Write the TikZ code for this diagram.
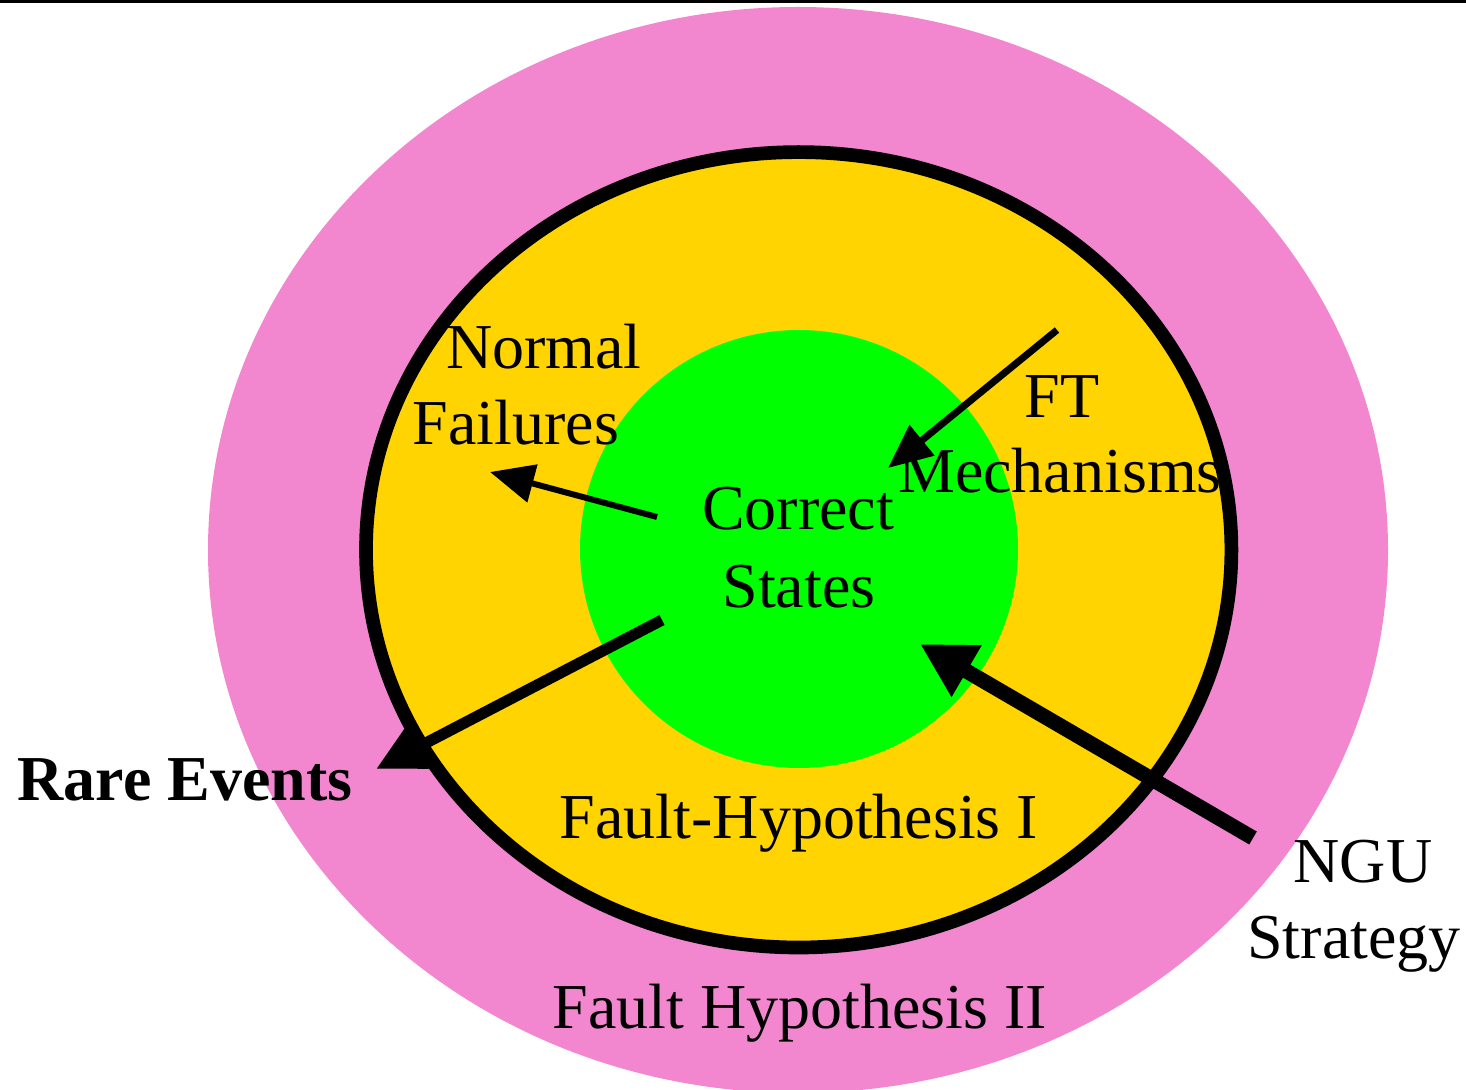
\documentclass[tikz,border=0pt]{standalone}
\usepackage{fontspec}
\setmainfont{Liberation Serif}
\usetikzlibrary{arrows.meta}
\definecolor{pinkfh}{RGB}{242,135,208}
\definecolor{goldfh}{RGB}{255,212,0}
\definecolor{greenfh}{RGB}{0,255,0}
\begin{document}
\begin{tikzpicture}[x=0.5pt,y=-0.5pt,
  lbl/.style={anchor=base,inner sep=0pt,font=\fontsize{32}{38}\selectfont},
  thinarrow/.style={line width=3pt,-{Triangle[length=22pt,width=19pt]}},
  thickarrow/.style={line width=5.6pt,-{Triangle[length=23.5pt,width=22.5pt]}},
  heavyarrow/.style={line width=7.5pt,-{Triangle[length=27pt,width=28pt]}}]
\useasboundingbox (0,0) rectangle (1466,1090);
\clip (0,0) rectangle (1466,1090);
\fill[pinkfh] (798,550) ellipse [x radius=590, y radius=543];
\filldraw[fill=goldfh,draw=black,line width=6.85pt] (798.7,549.8) ellipse [x radius=432.7, y radius=397.7];
\fill[greenfh] (799,549) circle [radius=219];
\fill[black] (0,0) rectangle (1466,3.5);
% labels
\node[lbl] (normal) at (544,369) {Normal};
\node[lbl] (failures) at (516,445) {Failures};
\node[lbl] (ft) at (1062,418) {FT};
\node[lbl] (mech) at (1060,493) {Mechanisms};
\node[lbl] (correct) at (798,530) {Correct};
\node[lbl] (states) at (799,607) {States};
\node[lbl,font=\fontsize{32}{38}\selectfont\bfseries] (rare) at (185,800) {Rare Events};
\node[lbl] (fh1) at (799,838) {Fault-Hypothesis I};
\node[lbl] (ngu) at (1363,882) {NGU};
\node[lbl] (strategy) at (1354,958) {Strategy};
\node[lbl] (fh2) at (800,1028) {Fault Hypothesis II};
% arrow ends
\coordinate (nfs) at (657,517);
\coordinate (nft) at (490,472);
\coordinate (fts) at (1057,330);
\coordinate (ftt) at (888,468);
\coordinate (res) at (662,620);
\coordinate (ret) at (376,769);
\coordinate (ngs) at (1253,838);
\coordinate (ngt) at (920,644);
\draw[thinarrow] (nfs) -- (nft);
\draw[thinarrow,line width=3.5pt] (fts) -- (ftt);
\draw[thickarrow] (res) -- (ret);
\draw[heavyarrow] (ngs) -- (ngt);
\end{tikzpicture}
\end{document}
